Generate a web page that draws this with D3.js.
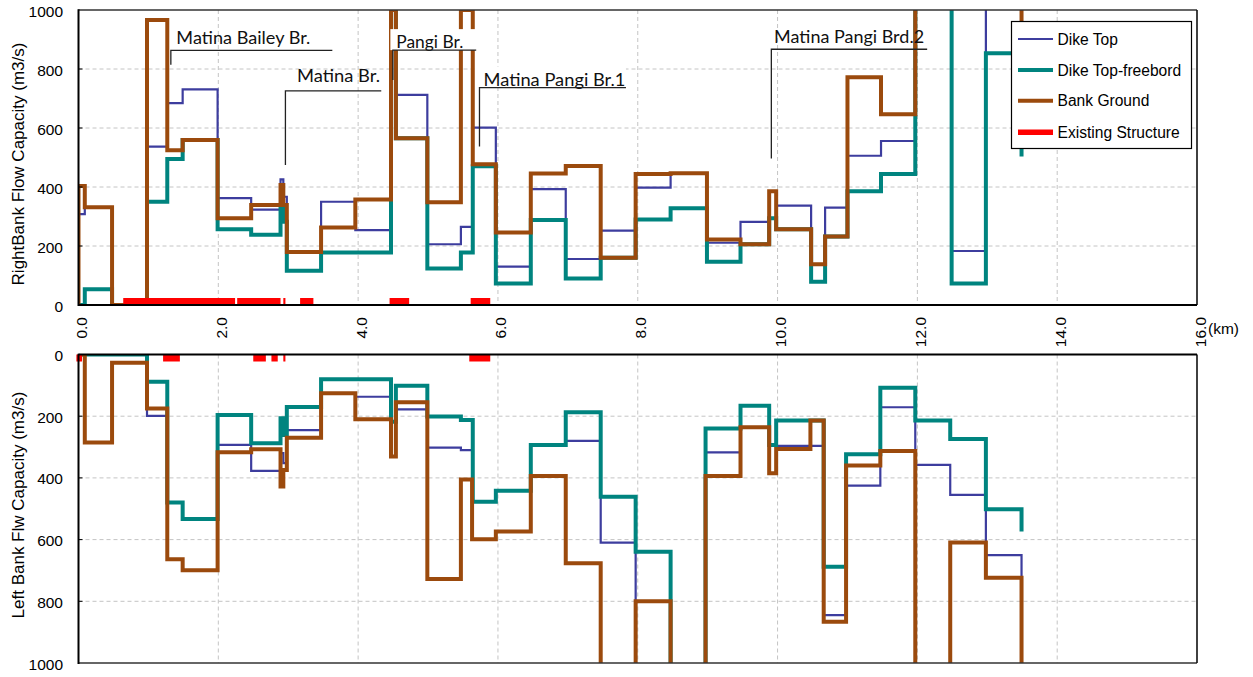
<!DOCTYPE html>
<html>
<head>
<meta charset="utf-8">
<script src="https://cdn.jsdelivr.net/npm/d3@7"></script>
<style>
  body { margin: 0; background: #fff; }
  svg { display: block; }
</style>
</head>
<body>
<svg id="chart" width="1253" height="677"></svg>
<script>
// ---- data -------------------------------------------------------------
const kmTicks = [0, 2, 4, 6, 8, 10, 12, 14, 16];
const kmTickLabels = ["0.0", "2.0", "4.0", "6.0", "8.0", "10.0", "12.0", "14.0", "16.0"];
const flowTicks = [0, 200, 400, 600, 800, 1000];
const seriesNames = ["Dike Top", "Dike Top-freebord", "Bank Ground", "Existing Structure"];

// step series: [km where the section starts, flow capacity m3/s]
const rightDikeTop = [
  [0,0],[0,308],[0.09,331],[0.48,0],[0.98,537],[1.27,684],[1.49,731],[1.99,362],[2.47,323],
  [2.89,426],[2.93,367],[2.98,180],[3.47,350],[3.96,254],[4.47,1000],[4.54,712],[4.99,206],
  [5.47,265],[5.64,601],[5.97,130],[6.47,393],[6.97,156],[7.47,252],[7.97,398],[8.47,447],
  [8.99,211],[9.47,282],[9.88,386],[9.98,337],[10.48,138],[10.68,330],[11.0,506],[11.48,556],
  [11.97,1100],[12.49,183],[12.98,1100],[13.49,1100]
];
const rightFreeboard = [
  [0,0],[0.09,53],[0.48,0],[0.98,350],[1.27,495],[1.49,559],[1.99,257],[2.47,238],
  [2.89,330],[2.93,282],[2.98,116],[3.47,178],[4.47,1000],[4.54,565],[4.99,124],[5.47,178],
  [5.64,470],[5.97,73],[6.47,288],[6.97,90],[7.47,160],[7.97,290],[8.47,328],[8.99,147],
  [9.47,206],[9.88,294],[9.98,257],[10.48,79],[10.68,232],[11.0,386],[11.48,444],
  [11.97,1100],[12.49,73],[12.98,853],[13.49,503]
];
const rightBankGround = [
  [0,0],[0,403],[0.09,331],[0.48,0],[0.98,966],[1.27,525],[1.49,559],[1.99,294],[2.47,339],
  [2.89,407],[2.93,339],[2.98,180],[3.47,263],[3.96,358],[4.47,1000],[4.54,565],[4.99,348],
  [5.47,1000],[5.64,477],[5.97,246],[6.47,446],[6.97,471],[7.47,160],[7.97,444],[8.47,447],
  [8.99,222],[9.47,206],[9.88,386],[9.98,257],[10.48,138],[10.68,232],[11.0,772],[11.48,647],
  [11.97,1100],[13.49,700]
];
const rightStructures = [[0.64,2.24],[2.27,2.89],[2.93,2.96],[3.17,3.36],[4.45,4.73],[5.61,5.89]];

const leftDikeTop = [
  [0,0],[0.98,199],[1.27,480],[1.49,533],[1.99,293],[2.47,377],[2.89,320],[2.93,352],
  [2.98,245],[3.47,126],[3.96,137],[4.47,330],[4.54,178],[4.99,302],[5.47,310],[5.64,477],
  [5.97,442],[6.47,293],[6.97,280],[7.47,610],[7.97,800],[8.47,1100],[8.97,317],[9.47,166],
  [9.88,293],[9.98,296],[10.66,845],[10.98,425],[11.47,171],[11.97,358],[12.47,455],
  [12.98,650],[13.49,724]
];
const leftFreeboard = [
  [0,0],[0.98,88],[1.27,480],[1.49,533],[1.99,196],[2.47,288],[2.89,207],[2.93,261],
  [2.98,170],[3.47,80],[4.47,218],[4.54,101],[4.99,201],[5.47,212],[5.64,477],[5.97,442],
  [6.47,293],[6.97,187],[7.47,461],[7.97,639],[8.47,1100],[8.97,240],[9.47,166],[9.88,293],
  [9.98,214],[10.66,688],[10.98,323],[11.47,108],[11.97,214],[12.47,274],[12.98,502],[13.49,574]
];
const leftBankGround = [
  [0,0],[0.09,285],[0.48,27],[0.98,175],[1.27,664],[1.49,699],[1.99,317],[2.47,307],
  [2.89,428],[2.93,374],[2.98,270],[3.47,126],[3.96,210],[4.47,331],[4.54,155],[4.99,728],
  [5.47,405],[5.63,599],[5.97,574],[6.47,394],[6.97,677],[7.47,1100],[7.97,800],[8.47,1100],
  [8.97,394],[9.47,236],[9.88,385],[9.98,306],[10.47,214],[10.66,866],[10.98,360],[11.47,313],
  [11.97,1100],[12.47,609],[12.98,724],[13.49,1100]
];
const leftStructures = [[-0.03,0.05],[1.21,1.45],[2.5,2.68],[2.76,2.85],[2.93,2.96],[5.59,5.89]];

// bridge call-outs on the right bank panel (km / m3/s)
const bridges = [
  { name: "Matina Bailey Br.",  stemKm: 1.321, textKm: 1.40,  endKm: 3.631, lineV: 863, stemV: 814, textV: 884, width: 134 },
  { name: "Matina Br.",         stemKm: 2.960, textKm: 3.126, endKm: 4.331, lineV: 726, stemV: 475, textV: 757, width: 83 },
  { name: "Pangi Br.",          stemKm: 4.497, textKm: 4.546, endKm: 5.689, lineV: 864, stemV: 763, textV: 872, width: 67, box: true },
  { name: "Matina Pangi Br.1",  stemKm: 5.736, textKm: 5.793, endKm: 7.831, lineV: 737, stemV: 537, textV: 742, width: 142, box: true },
  { name: "Matina Pangi Brd.2", stemKm: 9.911, textKm: 9.95,  endKm: 12.14, lineV: 867, stemV: 497, textV: 887, width: 150 }
];

// ---- drawing ----------------------------------------------------------
const colors = ["#3D3D9E", "#00847F", "#9B4A0D", "#FF0000"];
const widths = [2.2, 4, 4, 7];
const FONT = "'Liberation Sans', Arial, sans-serif";

const svg = d3.select("#chart");
const x = d3.scaleLinear().domain([0, 16]).range([78.5, 1197]);
const yTop = d3.scaleLinear().domain([0, 1000]).range([305, 10]);
const yBot = d3.scaleLinear().domain([0, 1000]).range([354.5, 663]);

function drawPanel(id, y, series, structures, zeroAtTop, title) {
  const g = svg.append("g");
  const [r0, r1] = y.range();
  const top = Math.min(r0, r1), bottom = Math.max(r0, r1);
  const left = x(0), right = x(16);

  svg.append("clipPath").attr("id", id)
    .append("rect").attr("x", left).attr("y", top)
    .attr("width", right - left).attr("height", bottom - top);

  // dashed grid
  g.selectAll(".vg").data(kmTicks.slice(1, -1)).join("line")
    .attr("x1", d => x(d)).attr("x2", d => x(d)).attr("y1", top).attr("y2", bottom)
    .attr("stroke", "#c4c4c4").attr("stroke-width", 1).attr("stroke-dasharray", "4,3");
  g.selectAll(".hg").data(flowTicks.slice(1, -1)).join("line")
    .attr("x1", left).attr("x2", right).attr("y1", d => y(d)).attr("y2", d => y(d))
    .attr("stroke", "#c4c4c4").attr("stroke-width", 1).attr("stroke-dasharray", "4,3");

  // step lines
  const line = d3.line().x(d => x(d[0])).y(d => y(d[1])).curve(d3.curveStepAfter);
  const lg = g.append("g").attr("clip-path", `url(#${id})`);
  series.forEach((s, i) => {
    lg.append("path").attr("d", line(s)).attr("fill", "none")
      .attr("stroke", colors[i]).attr("stroke-width", widths[i])
      .attr("stroke-linejoin", "miter").attr("stroke-linecap", "butt");
  });

  // existing structures along the zero line
  const barH = 7;
  g.selectAll(".st").data(structures).join("rect")
    .attr("x", d => x(d[0])).attr("width", d => x(d[1]) - x(d[0]))
    .attr("y", zeroAtTop ? y(0) : y(0) - barH).attr("height", barH)
    .attr("fill", colors[3]);

  // frame
  const zeroY = y(0), farY = y(1000);
  g.append("line").attr("x1", left).attr("x2", right).attr("y1", farY).attr("y2", farY)
    .attr("stroke", "#333").attr("stroke-width", 1.4);
  g.append("line").attr("x1", right).attr("x2", right).attr("y1", top).attr("y2", bottom)
    .attr("stroke", "#111").attr("stroke-width", 1.6);
  g.append("line").attr("x1", left).attr("x2", right).attr("y1", zeroY).attr("y2", zeroY)
    .attr("stroke", "#000").attr("stroke-width", 2.2);
  g.append("line").attr("x1", left).attr("x2", left).attr("y1", top - 0.7).attr("y2", bottom + 1.1)
    .attr("stroke", "#000").attr("stroke-width", 2);

  // y ticks + labels
  g.selectAll(".yt").data(flowTicks.slice(1, -1)).join("line")
    .attr("x1", left).attr("x2", left + 4).attr("y1", d => y(d)).attr("y2", d => y(d))
    .attr("stroke", "#000").attr("stroke-width", 1);
  g.selectAll(".yl").data(flowTicks).join("text")
    .attr("x", 63).attr("y", d => y(d)).attr("dy", "0.42em")
    .attr("text-anchor", "end").attr("font-family", FONT).attr("font-size", 15.5)
    .attr("fill", "#000").text(d => d);

  // axis title
  const cy = (top + bottom) / 2 + title.shift;
  g.append("text").attr("transform", `translate(23.5,${cy}) rotate(-90)`)
    .attr("text-anchor", "middle").attr("font-family", FONT).attr("font-size", 17)
    .attr("fill", "#000").text(title.text);
}

drawPanel("clipRight", yTop, [rightDikeTop, rightFreeboard, rightBankGround], rightStructures, false,
  { text: "RightBank Flow Capacity (m3/s)", shift: 6.5 });
drawPanel("clipLeft", yBot, [leftDikeTop, leftFreeboard, leftBankGround], leftStructures, true,
  { text: "Left Bank Flw Capacity (m3/s)", shift: -3.7 });

// km labels under the upper panel
svg.selectAll(".xl").data(kmTicks).join("text")
  .attr("transform", (d) => `translate(${x(d) + 8.5},317) rotate(-90)`)
  .attr("text-anchor", "end").attr("font-family", FONT).attr("font-size", 15.5)
  .attr("fill", "#000").text((d, i) => kmTickLabels[i]);
svg.append("text").attr("x", 1208).attr("y", 333.5)
  .attr("font-family", FONT).attr("font-size", 15.5).attr("fill", "#000").text("(km)");

// bridge call-outs
const bg = svg.append("g");
bridges.forEach(b => {
  if (b.box) {
    bg.append("rect").attr("x", x(b.stemKm) - 2.5).attr("y", yTop(b.lineV) - 21)
      .attr("width", x(b.endKm) - x(b.stemKm) + 2.5).attr("height", 21).attr("fill", "#fff");
  }
  bg.append("text").attr("x", x(b.textKm)).attr("y", yTop(b.textV))
    .attr("font-family", "Lato, 'Open Sans', sans-serif").attr("font-size", 17.5)
    .attr("textLength", b.width).attr("lengthAdjust", "spacingAndGlyphs")
    .attr("fill", "#111").text(b.name);
  bg.append("path")
    .attr("d", `M${x(b.stemKm)},${yTop(b.stemV)}V${yTop(b.lineV)}H${x(b.endKm)}`)
    .attr("fill", "none").attr("stroke", "#222").attr("stroke-width", 1.3);
});

// legend
const lgX = 1011.5, lgY = 21.5;
const legend = svg.append("g");
legend.append("rect").attr("x", lgX).attr("y", lgY).attr("width", 180).attr("height", 127)
  .attr("fill", "#fff").attr("stroke", "#000").attr("stroke-width", 1.2);
const rowY = [39, 70, 100.7, 132.3];
seriesNames.forEach((name, i) => {
  legend.append("line").attr("x1", 1018).attr("x2", 1053).attr("y1", rowY[i]).attr("y2", rowY[i])
    .attr("stroke", colors[i]).attr("stroke-width", i === 3 ? 5.5 : widths[i]);
  legend.append("text").attr("x", 1057.5).attr("y", rowY[i]).attr("dy", "0.36em")
    .attr("font-family", FONT).attr("font-size", 15.6).attr("fill", "#000").text(name);
});
</script>
</body>
</html>
